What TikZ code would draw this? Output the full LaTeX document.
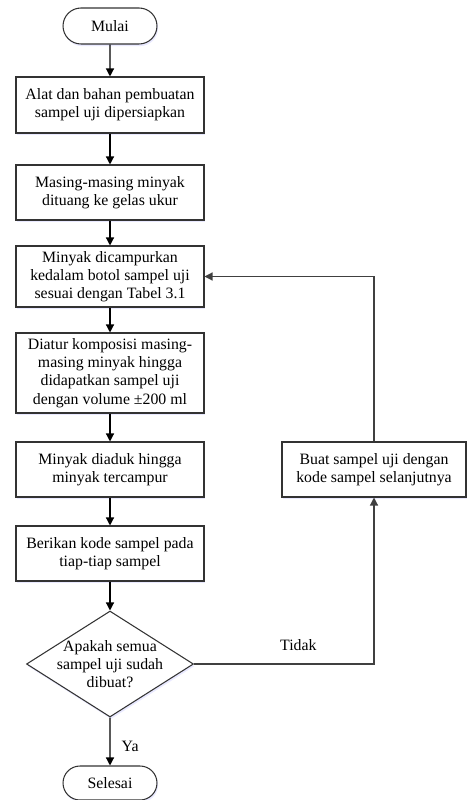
\documentclass[tikz,border=0pt]{standalone}
\usepackage{fontspec}
\setmainfont{Liberation Serif}
\usepackage{tikz}
\usetikzlibrary{shapes.geometric,shapes.misc,arrows.meta,shadows}

\tikzset{
  boxshadow/.style={drop shadow={shadow xshift=0.6pt, shadow yshift=-1.2pt, fill=blue!25, opacity=0.35}},
  stepbox/.style={draw=black!80, line width=0.6pt, fill=white, boxshadow, minimum width=3.76cm, inner sep=0pt, align=center, font=\fontsize{9}{10.4}\selectfont},
  terminal/.style={stepbox, rounded rectangle, minimum width=1.88cm, minimum height=0.72cm},
  decision/.style={draw=black!80, line width=0.6pt, fill=white, boxshadow, diamond, minimum width=3.34cm, minimum height=2.12cm, inner sep=0pt},
  flow/.style={line width=0.7pt, -{Triangle[length=1.6mm, width=1.6mm]}},
  loopline/.style={flow, draw=black!75},
  txt/.style={font=\fontsize{9}{10.4}\selectfont, align=center}
}

\begin{document}
\begin{tikzpicture}[x=0.02cm, y=-0.02cm]
  \useasboundingbox (0,0) rectangle (467,800);

  % main column
  \node[terminal] (mulai) at (110,26) {Mulai};
  \node[stepbox, minimum height=1.12cm] (alat) at (110,105) {Alat dan bahan pembuatan\\sampel uji dipersiapkan};
  \node[stepbox, minimum height=1.1cm] (tuang) at (110,192.5) {Masing-masing minyak\\dituang ke gelas ukur};
  \node[stepbox, minimum height=1.22cm] (campur) at (110,276.5) {Minyak dicampurkan\\kedalam botol sampel uji\\sesuai dengan Tabel 3.1};
  \node[stepbox, minimum height=1.6cm] (atur) at (110,373) {Diatur komposisi masing-\\masing minyak hingga\\didapatkan sampel uji\\dengan volume ±200 ml};
  \node[stepbox, minimum height=1.1cm] (aduk) at (110,469.5) {Minyak diaduk hingga\\minyak tercampur};
  \node[stepbox, minimum height=1.1cm] (kode) at (110,553.5) {Berikan kode sampel pada\\tiap-tiap sampel};
  \node[decision] (cek) at (110,664) {};
  \node[txt] (cektxt) at (cek.center) {Apakah semua\\sampel uji sudah\\dibuat?};
  \node[terminal, minimum height=0.68cm] (selesai) at (110,783) {Selesai};

  % loop back
  \node[stepbox, minimum width=3.68cm, minimum height=1.1cm] (lanjut) at (374,469.5) {Buat sampel uji dengan\\kode sampel selanjutnya};

  \draw[flow] (mulai) -- (alat);
  \draw[flow] (alat) -- (tuang);
  \draw[flow] (tuang) -- (campur);
  \draw[flow] (campur) -- (atur);
  \draw[flow] (atur) -- (aduk);
  \draw[flow] (aduk) -- (kode);
  \draw[flow] (kode) -- (cek);
  \draw[flow] (cek) -- node[txt, right, pos=0.6, xshift=3pt] {Ya} (selesai);
  \draw[loopline] (cek.east) -| node[txt, above, pos=0.29, yshift=4pt] {Tidak} (lanjut.south);
  \draw[loopline] (lanjut.north) |- (campur.east);
\end{tikzpicture}
\end{document}
